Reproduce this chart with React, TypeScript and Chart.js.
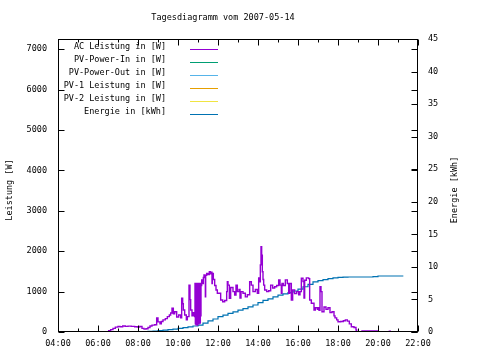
import React, { useEffect, useRef } from 'react';
import { Chart, registerables } from 'chart.js';

Chart.register(...registerables);

const chartTitle = 'Tagesdiagramm vom 2007-05-14';
const leftAxisTitle = 'Leistung [W]';
const rightAxisTitle = 'Energie [kWh]';

const legendLabels = [
  'AC Leistung in [W]',
  'PV-Power-In in [W]',
  'PV-Power-Out in [W]',
  'PV-1 Leistung in [W]',
  'PV-2 Leistung in [W]',
  'Energie in [kWh]',
];
const seriesColors = ['#9400d3', '#009e73', '#56b4e9', '#e69f00', '#f0e442', '#0072b2'];

const xTickHours = [4, 6, 8, 10, 12, 14, 16, 18, 20, 22];
const leftTickValues = [0, 1000, 2000, 3000, 4000, 5000, 6000, 7000];
const rightTickValues = [0, 5, 10, 15, 20, 25, 30, 35, 40, 45];

const acTimes = [
  '06:26', '06:32', '06:38', '06:45', '06:52', '07:00', '07:06', '07:14', '07:22', '07:30',
  '07:40', '07:50', '07:58', '08:05', '08:12', '08:18', '08:24', '08:30', '08:36', '08:42',
  '08:50', '08:56', '09:00', '09:06', '09:10', '09:15', '09:22', '09:28', '09:34', '09:38',
  '09:42', '09:46', '09:50', '09:56', '10:02', '10:08', '10:11', '10:14', '10:16', '10:20',
  '10:25', '10:28', '10:33', '10:36', '10:38', '10:42', '10:46', '10:50', '10:51', '10:52',
  '10:53', '10:54', '10:55', '10:56', '10:57', '10:58', '10:59', '11:00', '11:01', '11:02',
  '11:03', '11:04', '11:05', '11:06', '11:07', '11:08', '11:09', '11:11', '11:14', '11:16',
  '11:18', '11:21', '11:22', '11:23', '11:26', '11:30', '11:34', '11:37', '11:40', '11:42',
  '11:43', '11:46', '11:50', '11:54', '11:58', '12:03', '12:08', '12:14', '12:20', '12:26',
  '12:28', '12:30', '12:34', '12:38', '12:45', '12:50', '12:54', '12:58', '13:03', '13:06',
  '13:09', '13:15', '13:22', '13:28', '13:35', '13:40', '13:45', '13:52', '13:58', '14:02',
  '14:05', '14:07', '14:09', '14:11', '14:13', '14:15', '14:17', '14:20', '14:26', '14:32',
  '14:38', '14:44', '14:50', '14:56', '15:02', '15:06', '15:10', '15:12', '15:16', '15:22',
  '15:28', '15:32', '15:35', '15:38', '15:40', '15:44', '15:50', '15:56', '16:02', '16:06',
  '16:10', '16:15', '16:18', '16:20', '16:25', '16:32', '16:35', '16:40', '16:48', '16:52',
  '16:58', '17:00', '17:03', '17:06', '17:09', '17:12', '17:18', '17:24', '17:30', '17:36',
  '17:42', '17:48', '17:51', '17:56', '18:00', '18:08', '18:16', '18:22', '18:28', '18:34',
  '18:40', '18:48', '18:54', '18:56', '19:12', '19:35', '19:58', '20:00', '20:34', '20:37',
  '20:40',
];
const acWatts = [
  0, 30, 60, 90, 120, 140, 130, 150, 140, 145,
  140, 130, 120, 135, 90, 70, 80, 110, 150, 170,
  180, 350, 250, 200, 260, 300, 330, 380, 420, 470,
  590, 450, 500, 370, 420, 350, 835, 700, 545, 420,
  300, 380, 1160, 800, 545, 400, 480, 380, 1200, 200,
  1150, 180, 1200, 220, 1100, 175, 1200, 250, 1150, 200,
  1200, 300, 1100, 220, 1200, 400, 1150, 1290, 1200, 1350,
  1410, 1380, 870, 1400, 1450, 1420, 1490, 1440, 1480, 1200,
  1450, 1300, 1150, 1040, 960, 960, 790, 750, 780, 1000,
  1245, 1160, 835, 1100, 1000, 915, 1160, 1000, 1050, 840,
  1000, 960, 870, 920, 1245, 1160, 1000, 1050, 960, 1340,
  1245, 1660, 2110, 1900, 1490, 1300, 1160, 1040, 1000, 1020,
  1160, 1090, 1120, 1150, 1290, 1160, 960, 1200, 1150, 1290,
  1200, 960, 1200, 1200, 790, 1040, 950, 1000, 920, 1000,
  1330, 1250, 840, 1280, 1340, 1320, 790, 710, 545, 600,
  560, 600, 540, 1120, 1000, 500, 620, 560, 600, 480,
  500, 400, 350, 300, 255, 260, 280, 300, 270, 200,
  130, 110, 50, 0, 25, 25, 25, 0, 20, 0,
  0,
];

const energyTimes = [
  '06:56', '07:15', '07:30', '07:45', '08:00', '08:15', '08:30', '08:45', '09:00', '09:15',
  '09:30', '09:45', '10:00', '10:15', '10:30', '10:45', '11:00', '11:15', '11:30', '11:45',
  '12:00', '12:15', '12:30', '12:45', '13:00', '13:15', '13:30', '13:45', '14:00', '14:15',
  '14:30', '14:45', '15:00', '15:15', '15:30', '15:45', '16:00', '16:15', '16:30', '16:45',
  '17:00', '17:15', '17:30', '17:45', '18:00', '18:15', '18:30', '19:00', '19:30', '19:45',
  '20:00', '20:30', '21:00', '21:16',
];
const energyKWh = [
  0, 0, 0, 0, 0.02, 0.05, 0.1, 0.15, 0.22, 0.28,
  0.36, 0.45, 0.55, 0.68, 0.8, 0.92, 1.05, 1.35, 1.7, 2.0,
  2.35, 2.6, 2.85, 3.1, 3.35, 3.6, 3.85, 4.15, 4.5, 4.85,
  5.1, 5.4, 5.65, 5.85, 6.05, 6.3, 6.6, 6.95, 7.3, 7.7,
  7.9, 8.05, 8.2, 8.3, 8.4, 8.42, 8.45, 8.45, 8.45, 8.5,
  8.6, 8.6, 8.6, 8.6,
];

const pvInTimes: string[] = [];
const pvInWatts: number[] = [];
const pvOutTimes: string[] = [];
const pvOutWatts: number[] = [];
const pv1Times: string[] = [];
const pv1Watts: number[] = [];
const pv2Times: string[] = [];
const pv2Watts: number[] = [];

const xMin = 4;
const xMax = 22;
const leftMax = 7250;
const rightMax = 45;

const FONT = '"DejaVu Sans Mono", monospace';
const FS = 8.5;

const toHours = (s: string) => Number(s.slice(0, 2)) + Number(s.slice(3, 5)) / 60;
const pts = (times: string[], vals: number[]) => times.map((t, i) => ({ x: toHours(t), y: vals[i] }));
const fmtHour = (v: number) => (v < 10 ? '0' : '') + v + ':00';

const decorPlugin = {
  id: 'gnuplotDecor',
  afterDraw(chart: any) {
    const ctx = chart.ctx as CanvasRenderingContext2D;
    const ca = chart.chartArea;
    const L = Math.round(ca.left) + 0.5;
    const R = Math.round(ca.right) - 0.5;
    const T = Math.round(ca.top) + 0.5;
    const B = Math.round(ca.bottom) - 0.5;
    const xs = chart.scales.x;
    const ys = chart.scales.y;
    const y2s = chart.scales.y2;
    ctx.save();
    ctx.strokeStyle = '#000';
    ctx.lineWidth = 1;
    ctx.beginPath();
    for (let h = xMin; h <= xMax; h++) {
      const px = Math.round(xs.getPixelForValue(h)) + 0.5;
      const len = xTickHours.includes(h) ? 6 : 3;
      ctx.moveTo(px, B);
      ctx.lineTo(px, B - len);
      ctx.moveTo(px, T);
      ctx.lineTo(px, T + len);
    }
    ys.ticks.forEach((t: any) => {
      const py = Math.round(ys.getPixelForValue(t.value)) + 0.5;
      ctx.moveTo(L, py);
      ctx.lineTo(L + 6, py);
      ctx.moveTo(R, py);
      ctx.lineTo(R - 6, py);
    });
    y2s.ticks.forEach((t: any) => {
      const py = Math.round(y2s.getPixelForValue(t.value)) + 0.5;
      ctx.moveTo(R, py);
      ctx.lineTo(R - 6, py);
    });
    ctx.stroke();
    ctx.strokeRect(L, T, R - L, B - T);

    ctx.fillStyle = '#000';
    ctx.font = `${FS}px ${FONT}`;
    ctx.textBaseline = 'middle';
    ctx.textAlign = 'center';
    ctx.fillText(chartTitle, 223, 18);

    ctx.save();
    ctx.translate(10, 190);
    ctx.rotate(-Math.PI / 2);
    ctx.fillText(leftAxisTitle, 0, 0);
    ctx.restore();
    ctx.save();
    ctx.translate(455, 190);
    ctx.rotate(-Math.PI / 2);
    ctx.fillText(rightAxisTitle, 0, 0);
    ctx.restore();

    legendLabels.forEach((lab, i) => {
      const ly = Math.round(49 + i * 12.9) + 0.5;
      ctx.textAlign = 'right';
      ctx.fillStyle = '#000';
      ctx.fillText(lab, 166, ly - 2.5);
      ctx.strokeStyle = seriesColors[i];
      ctx.beginPath();
      ctx.moveTo(190, ly);
      ctx.lineTo(218, ly);
      ctx.stroke();
    });
    ctx.restore();
  },
};

export default function App() {
  const ref = useRef<HTMLCanvasElement | null>(null);
  useEffect(() => {
    if (!ref.current) return;
    const series = [
      pts(acTimes, acWatts),
      pts(pvInTimes, pvInWatts),
      pts(pvOutTimes, pvOutWatts),
      pts(pv1Times, pv1Watts),
      pts(pv2Times, pv2Watts),
      pts(energyTimes, energyKWh),
    ];
    const tickFont = { family: FONT, size: FS };
    const chart = new Chart(ref.current, {
      type: 'line',
      data: {
        datasets: series.map((d, i) => ({
          label: legendLabels[i],
          data: d,
          borderColor: seriesColors[i],
          backgroundColor: seriesColors[i],
          borderWidth: i === 0 ? 1.4 : 1.2,
          pointRadius: 0,
          stepped: true,
          fill: false,
          yAxisID: i === 5 ? 'y2' : 'y',
        })),
      },
      options: {
        animation: false,
        responsive: false,
        events: [],
        layout: { padding: { top: 39, left: 0, right: 0, bottom: 0 } },
        plugins: { legend: { display: false }, title: { display: false }, tooltip: { enabled: false } },
        scales: {
          x: {
            type: 'linear',
            min: xMin,
            max: xMax,
            grid: { display: false, drawTicks: false },
            border: { display: false },
            ticks: {
              color: '#000',
              font: tickFont,
              padding: 7,
              maxRotation: 0,
              autoSkip: false,
              callback: (v: any) => fmtHour(Number(v)),
            },
            afterBuildTicks: (s: any) => { s.ticks = xTickHours.map((v) => ({ value: v })); },
            afterFit: (s: any) => { s.height = 28; },
          },
          y: {
            position: 'left',
            min: 0,
            max: leftMax,
            grid: { display: false, drawTicks: false },
            border: { display: false },
            ticks: {
              color: '#000',
              font: tickFont,
              padding: 11,
              autoSkip: false,
              callback: (v: any) => String(v),
            },
            afterBuildTicks: (s: any) => { s.ticks = leftTickValues.map((v) => ({ value: v })); },
            afterFit: (s: any) => { s.width = 58; },
          },
          y2: {
            position: 'right',
            min: 0,
            max: rightMax,
            grid: { display: false, drawTicks: false },
            border: { display: false },
            ticks: {
              color: '#000',
              font: tickFont,
              padding: 10,
              autoSkip: false,
              callback: (v: any) => String(v),
            },
            afterBuildTicks: (s: any) => { s.ticks = rightTickValues.map((v) => ({ value: v })); },
            afterFit: (s: any) => { s.width = 62; },
          },
        },
      },
      plugins: [decorPlugin],
    } as any);
    return () => chart.destroy();
  }, []);
  return (
    <div style={{ position: 'fixed', left: 0, top: 0, width: 480, height: 360, background: '#fff' }}>
      <canvas ref={ref} width={480} height={360} style={{ display: 'block', width: 480, height: 360 }} />
    </div>
  );
}
